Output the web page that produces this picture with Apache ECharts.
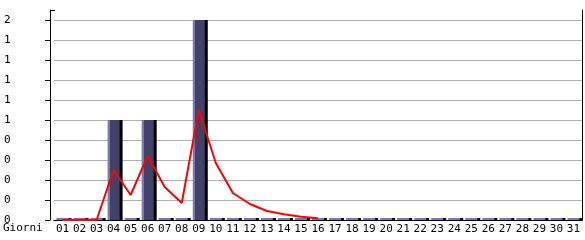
<!DOCTYPE html>
<html><head><meta charset="utf-8">
<script src="https://cdn.jsdelivr.net/npm/echarts@6/dist/echarts.min.js"></script>
<style>html,body{margin:0;padding:0;background:#fff}#c{width:585px;height:240px}</style>
</head><body><div id="c"></div>
<script>
var days = ['01','02','03','04','05','06','07','08','09','10','11','12','13','14','15','16','17','18','19','20','21','22','23','24','25','26','27','28','29','30','31'];
var barValues = [0,0,0,1,0,1,0,0,2,0,0,0,0,0,0,0,0,0,0,0,0,0,0,0,0,0,0,0,0,0,0];
var lineValues = [0,0,0,0.5,0.25,0.64,0.33,0.17,1.1,0.57,0.27,0.16,0.09,0.057,0.033,0.017,null,null,null,null,null,null,null,null,null,null,null,null,null,null,null];
var yTicks = [0,0.2,0.4,0.6,0.8,1.0,1.2,1.4,1.6,1.8,2.0];
var yTickLabels = ['0','0','0','0','0','1','1','1','1','1','2'];
var xName = 'Giorni';

var font = 'DejaVu Sans Mono';
var barFill = new echarts.graphic.LinearGradient(0,0,1,0,[
  {offset:0, color:'#7878b8'},{offset:0.17, color:'#7878b8'},
  {offset:0.17, color:'#424268'},{offset:1, color:'#424268'}]);
var barData = barValues.map(function(v){
  return v === 0 ? {value:v, itemStyle:{color:'#7878b8'}} : v;
});
function yLabel(v){
  for (var i=0;i<yTicks.length;i++){ if (Math.abs(yTicks[i]-v)<1e-6) return yTickLabels[i]; }
  return '';
}
var chart = echarts.init(document.getElementById('c'), null, {renderer:'canvas'});
chart.setOption({
  animation:false,
  grid:{left:54, right:3, top:10, bottom:20, show:false},
  xAxis:[{type:'category', data:days, boundaryGap:true, z:0,
    axisLine:{lineStyle:{color:'#000'}},
    axisTick:{alignWithLabel:true, length:4, lineStyle:{color:'#000'}},
    axisLabel:{color:'#000', fontFamily:font, fontSize:11, margin:4, interval:0}},
    {type:'category', data:days, position:'top', z:10,
    axisLine:{show:true, lineStyle:{color:'#000'}}, axisTick:{show:false}, axisLabel:{show:false}}],
  yAxis:[{type:'value', min:0, max:2.1, interval:0.2, offset:4,
    axisLine:{show:true, lineStyle:{color:'#000'}},
    axisTick:{show:true, length:5, lineStyle:{color:'#000'}, customValues:yTicks},
    splitLine:{lineStyle:{color:'#b0b0b0'}},
    axisLabel:{color:'#000', fontFamily:font, fontSize:11, align:'left', margin:46, formatter:yLabel}},
    {type:'value', min:0, max:2.1, interval:0.2, position:'right', z:10,
    axisLine:{show:true, lineStyle:{color:'#000'}}, axisTick:{show:false}, axisLabel:{show:false}, splitLine:{show:false}}],
  graphic:[
    {type:'text', left:3, top:223, style:{text:xName, font:'11px "DejaVu Sans Mono"', fill:'#000'}},
    {type:'line', shape:{x1:50, y1:10.5, x2:55, y2:10.5}, style:{stroke:'#000', lineWidth:1}}
  ],
  series:[
    {type:'bar', data:barData, barWidth:12, barMinHeight:2, z:3,
      itemStyle:{color:barFill, borderWidth:0, shadowColor:'#000', shadowOffsetX:3, shadowOffsetY:0, shadowBlur:0}},
    {type:'line', data:lineValues, symbol:'none', z:20, clip:false,
      lineStyle:{color:'#ff0000', width:2}}
  ]
});
</script></body></html>
